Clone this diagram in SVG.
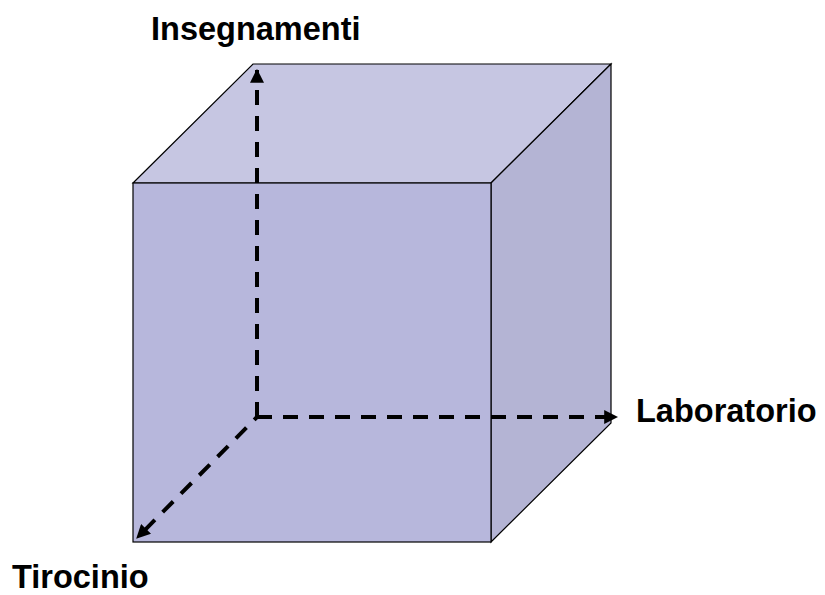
<svg xmlns="http://www.w3.org/2000/svg" width="825" height="595" viewBox="0 0 825 595">
  <style>
    .face { stroke: #000; stroke-width: 1.2; stroke-linejoin: miter; }
    .axis { fill: none; stroke: #000; stroke-width: 4; stroke-dasharray: 15 11; }
    .lbl { font-family: "Liberation Sans", Arial, sans-serif; font-weight: bold; font-size: 32.5px; fill: #000; }
  </style>
  <defs>
    <marker id="arr" markerUnits="userSpaceOnUse" markerWidth="14" markerHeight="14" viewBox="0 0 12 12" refX="11" refY="6" orient="auto">
      <path d="M0,0 L12,6 L0,12 Z" fill="#000"/>
    </marker>
  </defs>
  <rect width="825" height="595" fill="#fff"/>
  <g id="cube">
    <polygon class="face" points="133,183 253,64 611,64 491,183" fill="#C6C6E2"/>
    <polygon class="face" points="491,183 611,64 611,423 491,542" fill="#B4B4D4"/>
    <rect class="face" x="133" y="183" width="358" height="359" fill="#B7B7DC"/>
  </g>
  <g id="connectors">
    <path class="axis" d="M257,417 L257,70" marker-end="url(#arr)"/>
    <path class="axis" d="M257,417 L617,417" marker-end="url(#arr)"/>
    <path class="axis" d="M257,417 L137,538" stroke-dashoffset="11" marker-end="url(#arr)"/>
  </g>
  <g id="label-insegnamenti"><text class="lbl" x="151" y="40">Insegnamenti</text></g>
  <g id="label-laboratorio"><text class="lbl" x="636" y="422">Laboratorio</text></g>
  <g id="label-tirocinio"><text class="lbl" x="12" y="588">Tirocinio</text></g>
</svg>
